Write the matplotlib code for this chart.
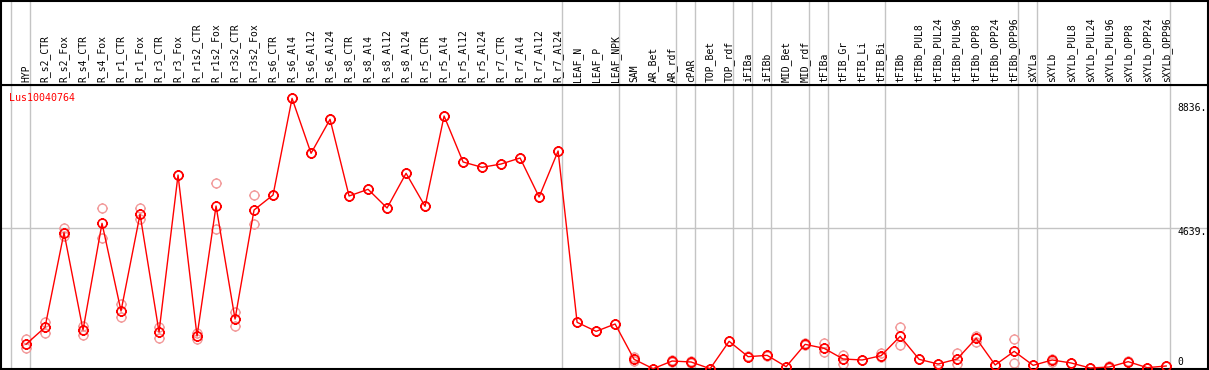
import matplotlib
matplotlib.use("Agg")
import matplotlib.pyplot as plt
from matplotlib.path import Path

gene = "Lus10040764"

categories = [
    "HYP", "R_s2_CTR", "R_s2_Fox", "R_s4_CTR", "R_s4_Fox", "R_r1_CTR", "R_r1_Fox",
    "R_r3_CTR", "R_r3_Fox", "R_r1s2_CTR", "R_r1s2_Fox", "R_r3s2_CTR", "R_r3s2_Fox",
    "R_s6_CTR", "R_s6_Al4", "R_s6_Al12", "R_s6_Al24", "R_s8_CTR", "R_s8_Al4",
    "R_s8_Al12", "R_s8_Al24", "R_r5_CTR", "R_r5_Al4", "R_r5_Al12", "R_r5_Al24",
    "R_r7_CTR", "R_r7_Al4", "R_r7_Al12", "R_r7_Al24", "LEAF_N", "LEAF_P", "LEAF_NPK",
    "SAM", "AR_Bet", "AR_rdf", "cPAR", "TOP_Bet", "TOP_rdf", "iFIBa", "iFIBb",
    "MID_Bet", "MID_rdf", "tFIBa", "tFIB_Gr", "tFIB_Li", "tFIB_Bi", "tFIBb",
    "tFIBb_PUL8", "tFIBb_PUL24", "tFIBb_PUL96", "tFIBb_OPP8", "tFIBb_OPP24",
    "tFIBb_OPP96", "sXYLa", "sXYLb", "sXYLb_PUL8", "sXYLb_PUL24", "sXYLb_PUL96",
    "sXYLb_OPP8", "sXYLb_OPP24", "sXYLb_OPP96",
]

means = [
    895, 1443, 4499, 1356, 4801, 1970, 5091, 1292, 6361, 1162, 5360, 1711, 5231,
    5715, 8836, 7062, 8160, 5683, 5899, 5296, 6416, 5350, 8266, 6781, 6609,
    6716, 6910, 5651, 7136, 1604, 1313, 1550,
    409, 107, 355, 323, 107, 991, 495, 538, 172, 893, 764, 420, 388, 527, 1152,
    409, 258, 420, 1087, 226, 667, 215, 388, 291, 129, 161, 334, 140, 194,
]

rep_hi = [
    1066, 1625, 4660, 1485, 5285, 2185, 5285, 1464, 6361, 1270, 6092, 1926, 5715,
    5715, 8836, 7062, 8160, 5683, 5899, 5296, 6416, 5350, 8266, 6781, 6609,
    6716, 6910, 5651, 7136, 1604, 1313, 1550,
    470, 107, 380, 340, 107, 991, 520, 560, 172, 940, 926, 538, 388, 624, 1453,
    409, 258, 603, 1173, 226, 1055, 215, 420, 291, 129, 200, 350, 140, 194,
]

rep_lo = [
    765, 1270, 4391, 1205, 4316, 1765, 4930, 1087, 6361, 1055, 4607, 1485, 4779,
    5715, 8836, 7062, 8160, 5683, 5899, 5296, 6416, 5350, 8266, 6781, 6609,
    6716, 6910, 5651, 7136, 1604, 1313, 1550,
    350, 107, 330, 300, 107, 991, 470, 520, 172, 860, 657, 248, 388, 480, 861,
    409, 107, 269, 969, 226, 280, 215, 330, 291, 129, 140, 320, 140, 194,
]

separators = [-1, 0, 28, 31, 34, 35, 37, 38, 39, 41, 42, 45, 52, 53, 60]

ytick_labels = ["8836.", "4639.", "0"]
grid_value = 4639

W, H = 1209, 370
fig = plt.figure(figsize=(W / 100, H / 100), dpi=100)
fig.patch.set_facecolor("white")

top_px, bot_px = 85, 369
left_px, right_px = 1, 1208
ax = fig.add_axes([left_px / W, (H - bot_px) / H, (right_px - left_px) / W,
                   (bot_px - top_px) / H])
hx = fig.add_axes([left_px / W, (H - top_px) / H, (right_px - left_px) / W,
                   (top_px - 1) / H], sharex=ax)

xs = list(range(len(categories)))
ax.set_xlim(-1.316, 62.2)
ax.set_ylim(97, 9267)
hx.set_ylim(0, 1)

for a in (ax, hx):
    a.set_xticks([])
    a.set_yticks([])
    for s in a.spines.values():
        s.set_color("black")
        s.set_linewidth(1.5)

# separators
for s in separators:
    ax.axvline(s + 0.2, color="#c4c4c4", lw=1.0, zorder=0)
    hx.axvline(s + 0.2, color="#c4c4c4", lw=1.0, zorder=0)
ax.axhline(grid_value, color="#c4c4c4", lw=1.0, zorder=0)

# marker: circle with small tick marks
circ = Path.unit_circle()
tv = [(0, 1), (0, 1.22), (0, -1), (0, -1.22), (1, 0), (1.22, 0), (-1, 0), (-1.22, 0)]
tc = [Path.MOVETO, Path.LINETO] * 4
mk = Path.make_compound_path(circ, Path(tv, tc))

for reps in (rep_hi, rep_lo):
    ax.plot(xs, reps, ls="none", marker=mk, ms=7.8, mfc="none", mec="#f29a9a",
            mew=1.0, clip_on=False, zorder=2)
ax.plot(xs, means, color="red", lw=1.0, zorder=3, clip_on=False)
ax.plot(xs, means, ls="none", marker=mk, ms=7.8, mfc="none", mec="red",
        mew=1.2, clip_on=False, zorder=4)

# header labels
for x, c in zip(xs, categories):
    hx.text(x, 0.03, c, rotation=90, ha="center", va="bottom",
            family="DejaVu Sans Mono", fontsize=7, color="black")

# gene name
ax.text(8 / 1207, (bot_px - 97.7) / (bot_px - top_px), gene, transform=ax.transAxes,
        ha="left", va="center", family="DejaVu Sans Mono", fontsize=7.2, color="red")

# right-side value labels
label_px = [108, 231.7, 362]
for lab, py in zip(ytick_labels, label_px):
    ax.text((1177 - left_px) / (right_px - left_px), (bot_px - py) / (bot_px - top_px),
            lab, transform=ax.transAxes, ha="left", va="center",
            family="DejaVu Sans Mono", fontsize=7, color="black")

fig.savefig("out.png", dpi=100, facecolor="white")
